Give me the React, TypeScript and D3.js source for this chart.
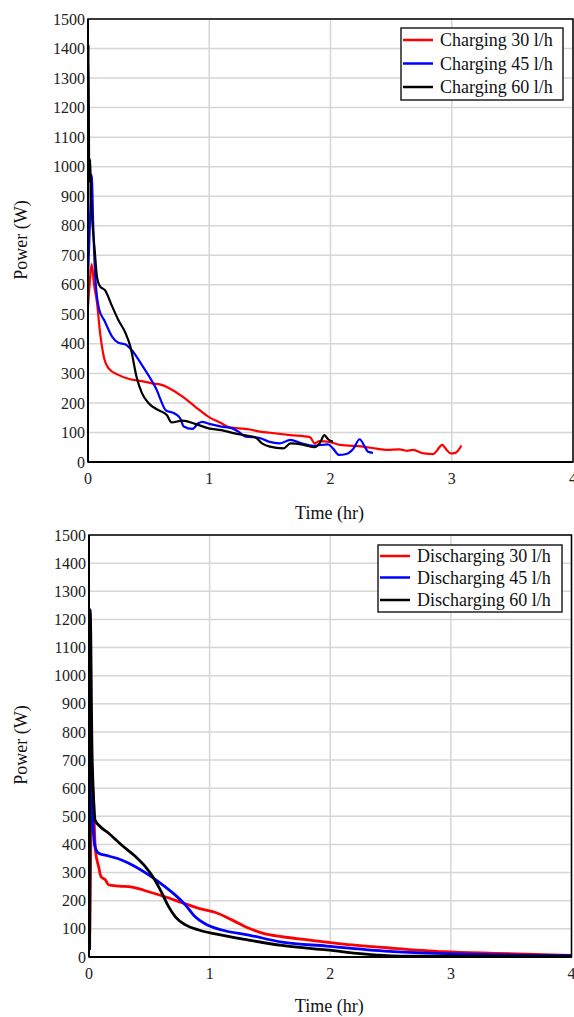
import React from "react";
import * as d3 from "d3";

const xTicks = [0, 1, 2, 3, 4];
const yTicks = [0, 100, 200, 300, 400, 500, 600, 700, 800, 900, 1000, 1100, 1200, 1300, 1400, 1500];

const chargeLabels = ["Charging 30 l/h", "Charging 45 l/h", "Charging 60 l/h"];
const dischargeLabels = ["Discharging 30 l/h", "Discharging 45 l/h", "Discharging 60 l/h"];
const colors = ["#ff0000", "#0000ff", "#000000"];

const c30T = [0, 0.015, 0.03, 0.05, 0.074, 0.1, 0.13, 0.17, 0.25, 0.34, 0.445, 0.53, 0.6, 0.67, 0.78, 0.885, 0.995, 1.1, 1.16, 1.25, 1.337, 1.42, 1.5, 1.67, 1.83, 1.87, 1.91, 2.0, 2.08, 2.27, 2.38, 2.46, 2.57, 2.63, 2.68, 2.77, 2.85, 2.88, 2.92, 2.96, 2.99, 3.03, 3.08];
const c30P = [526, 610, 670, 600, 540, 436, 357, 317, 295, 281, 274, 266, 262, 250, 221, 187, 153, 131, 118, 114, 110, 103, 99, 91, 84, 63, 71, 67, 58, 52, 45, 41, 43, 38, 41, 29, 27, 40, 58, 40, 29, 31, 56];

const c45T = [0, 0.015, 0.03, 0.045, 0.06, 0.09, 0.14, 0.2, 0.25, 0.31, 0.36, 0.445, 0.53, 0.567, 0.6, 0.64, 0.71, 0.76, 0.79, 0.86, 0.91, 0.94, 1.0, 1.1, 1.19, 1.24, 1.3, 1.41, 1.49, 1.58, 1.67, 1.75, 1.86, 1.98, 2.02, 2.07, 2.13, 2.19, 2.24, 2.29, 2.31, 2.35];
const c45P = [620, 800, 972, 774, 627, 520, 475, 424, 404, 398, 379, 328, 272, 244, 210, 176, 165, 148, 120, 112, 131, 136, 129, 120, 114, 103, 86, 82, 69, 63, 75, 65, 55, 60, 46, 24, 27, 46, 77, 46, 35, 31];

const c60T = [0, 0.004, 0.01, 0.018, 0.025, 0.033, 0.055, 0.074, 0.1, 0.14, 0.2, 0.25, 0.31, 0.35, 0.4, 0.445, 0.5, 0.58, 0.65, 0.69, 0.78, 0.885, 0.995, 1.1, 1.21, 1.33, 1.38, 1.435, 1.5, 1.61, 1.67, 1.78, 1.87, 1.91, 1.95, 1.98, 2.02];
const c60P = [900, 1415, 950, 1025, 887, 831, 718, 627, 594, 582, 526, 481, 436, 390, 289, 233, 199, 176, 159, 134, 140, 129, 114, 108, 97, 88, 84, 63, 52, 46, 63, 58, 50, 63, 91, 77, 69];

const d30T = [0.005, 0.015, 0.03, 0.053, 0.08, 0.1, 0.136, 0.163, 0.25, 0.357, 0.495, 0.63, 0.77, 0.91, 1.05, 1.185, 1.325, 1.46, 1.6, 1.83, 2.11, 2.525, 2.94, 3.36, 3.91, 4.0];
const d30P = [25, 400, 600, 380, 321, 285, 274, 256, 252, 248, 232, 214, 193, 173, 158, 132, 102, 82, 72, 60, 46, 31, 19, 13, 7, 6];

const d45T = [0.005, 0.012, 0.025, 0.05, 0.08, 0.163, 0.27, 0.385, 0.495, 0.63, 0.716, 0.8, 0.88, 0.965, 1.1, 1.325, 1.6, 1.97, 2.525, 3.08, 4.0];
const d45P = [25, 800, 558, 392, 369, 359, 345, 321, 292, 250, 220, 185, 143, 117, 96, 78, 53, 39, 19, 11, 5];

const d60T = [0.005, 0.01, 0.025, 0.039, 0.05, 0.094, 0.163, 0.27, 0.385, 0.467, 0.537, 0.606, 0.66, 0.716, 0.8, 0.91, 1.047, 1.325, 1.6, 1.97, 2.39, 2.6, 3.0, 3.5, 4.0];
const d60P = [30, 1235, 736, 558, 487, 463, 440, 398, 357, 321, 280, 226, 179, 143, 114, 96, 82, 60, 41, 25, 7, 3, 3, 3, 3];

const FONT = "Liberation Serif, Times New Roman, Times, serif";

type Series = { t: number[]; p: number[] };

function Panel(props: {
  x0: number; x1: number; y0: number; y1: number;
  series: Series[]; labels: string[]; lineW: number;
  legend: { x: number; y: number; w: number; h: number; rows: number[]; lx0: number; lx1: number; tx: number };
  xLabelY: number; xTitleY: number; yTitleY: number;
}) {
  const { x0, x1, y0, y1, series, labels, lineW, legend } = props;
  const x = d3.scaleLinear().domain([0, 4]).range([x0, x1]);
  const y = d3.scaleLinear().domain([0, 1500]).range([y0, y1]);
  const line = d3.line<[number, number]>().x(d => x(d[0])).y(d => y(d[1])).curve(d3.curveMonotoneX);
  const clipId = `clip${y0}`;
  const txt = { fontFamily: FONT };
  return (
    <g>
      <defs>
        <clipPath id={clipId}><rect x={x0} y={y1} width={x1 - x0} height={y0 - y1} /></clipPath>
      </defs>
      {yTicks.map(v => (
        <line key={"gy" + v} x1={x0} x2={x1} y1={y(v)} y2={y(v)} stroke="#d6d6d6" strokeWidth={1.5} />
      ))}
      {xTicks.map(v => (
        <line key={"gx" + v} x1={x(v)} x2={x(v)} y1={y0} y2={y1} stroke="#d6d6d6" strokeWidth={1.5} />
      ))}
      <g clipPath={`url(#${clipId})`}>
        {series.map((s, i) => (
          <path key={i} d={line(s.t.map((t, k) => [t, s.p[k]] as [number, number])) || ""} fill="none" stroke={colors[i]} strokeWidth={lineW} strokeLinejoin="round" />
        ))}
      </g>
      <rect x={x0} y={y1} width={x1 - x0} height={y0 - y1} fill="none" stroke="#000" strokeWidth={1.5} />
      <line x1={x0} x2={x0} y1={y0} y2={y1} stroke="#000" strokeWidth={2} />
      <line x1={x0} x2={x1} y1={y0} y2={y0} stroke="#000" strokeWidth={2} />
      {yTicks.map(v => (
        <text key={"ly" + v} x={x0 - 3} y={y(v)} dy="0.35em" textAnchor="end" fontSize={16} style={txt} fill="#222">{v}</text>
      ))}
      {xTicks.map(v => (
        <text key={"lx" + v} x={x(v)} y={props.xLabelY} textAnchor="middle" fontSize={16} style={txt} fill="#222">{v}</text>
      ))}
      <text x={(x0 + x1) / 2 - 1} y={props.xTitleY} textAnchor="middle" fontSize={18} style={txt} fill="#111">Time (hr)</text>
      <text transform={`translate(27,${props.yTitleY}) rotate(-90)`} textAnchor="middle" fontSize={18} style={txt} fill="#111">Power (W)</text>
      <rect x={legend.x} y={legend.y} width={legend.w} height={legend.h} fill="#fff" stroke="#222" strokeWidth={1.5} />
      {labels.map((lab, i) => (
        <g key={lab}>
          <line x1={legend.lx0} x2={legend.lx1} y1={legend.rows[i]} y2={legend.rows[i]} stroke={colors[i]} strokeWidth={2.5} />
          <text x={legend.tx} y={legend.rows[i]} dy="0.35em" fontSize={18} style={txt} fill="#111">{lab}</text>
        </g>
      ))}
    </g>
  );
}

export default function App() {
  const charge: Series[] = [{ t: c30T, p: c30P }, { t: c45T, p: c45P }, { t: c60T, p: c60P }];
  const discharge: Series[] = [{ t: d30T, p: d30P }, { t: d45T, p: d45P }, { t: d60T, p: d60P }];
  return (
    <svg width={574} height={1017} style={{ position: "absolute", left: 0, top: 0, background: "#fff" }}>
      <rect x={0} y={0} width={574} height={1017} fill="#fff" />
      <Panel x0={88} x1={573} y0={462} y1={19} series={charge} labels={chargeLabels} lineW={2.2}
        legend={{ x: 401, y: 28, w: 162, h: 72, rows: [40, 63.5, 87], lx0: 403, lx1: 433, tx: 440 }}
        xLabelY={484} xTitleY={519} yTitleY={240} />
      <Panel x0={89} x1={571.5} y0={957} y1={535} series={discharge} labels={dischargeLabels} lineW={2.8}
        legend={{ x: 378, y: 545, w: 184, h: 67, rows: [556, 577.5, 600], lx0: 380, lx1: 410, tx: 417 }}
        xLabelY={979} xTitleY={1012} yTitleY={745} />
    </svg>
  );
}
